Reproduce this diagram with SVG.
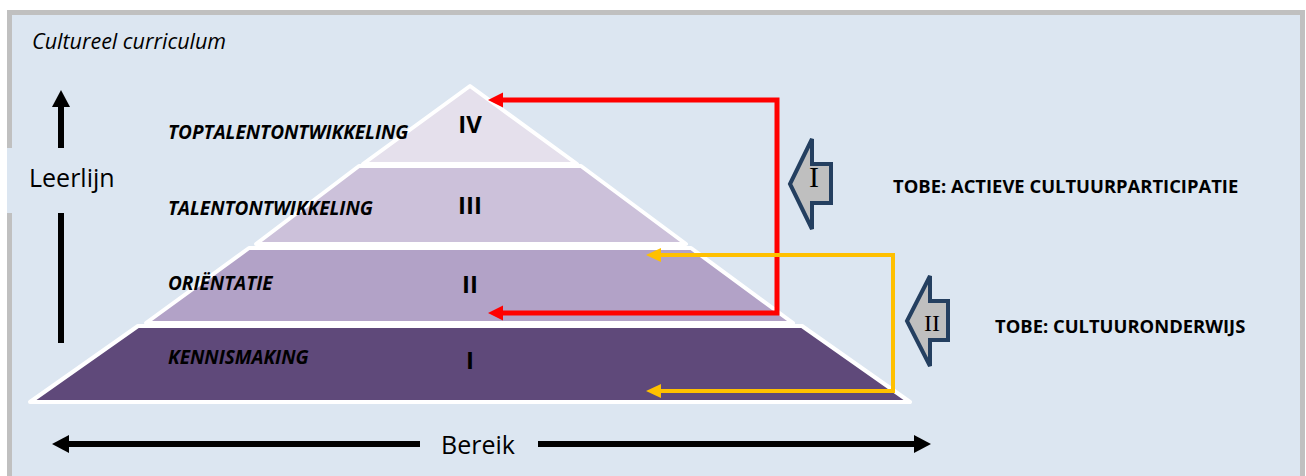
<svg xmlns="http://www.w3.org/2000/svg" width="1306" height="476" viewBox="0 0 1306 476">
<defs>
<style>
.lbl{font-family:"Open Sans","DejaVu Sans",sans-serif;font-weight:bold;font-style:italic;font-size:19px;fill:#000}
.num{font-family:"Open Sans","DejaVu Sans",sans-serif;font-weight:bold;font-size:24px;text-anchor:middle;fill:#000}
.tobe{font-family:"Open Sans","DejaVu Sans",sans-serif;font-weight:bold;font-size:18.4px;fill:#000}
.big{font-family:"Open Sans","DejaVu Sans",sans-serif;font-size:25px;fill:#000}
.layer{stroke:#ffffff;stroke-width:4;stroke-linejoin:round}
.blk{fill:#bfbfbf;stroke:#243f60;stroke-width:4;stroke-linejoin:miter}
.rom{font-family:"Liberation Serif",serif;text-anchor:middle;fill:#000}
.red{fill:none;stroke:#ff0000;stroke-width:5;stroke-linejoin:miter}
.yel{fill:none;stroke:#ffc000;stroke-width:4;stroke-linejoin:miter}
.blkline{fill:none;stroke:#000;stroke-width:6}
</style>
<marker id="arR" markerUnits="userSpaceOnUse" viewBox="0 0 16 16" markerWidth="16" markerHeight="16" refX="0" refY="7.5" orient="auto-start-reverse"><path d="M0,0 L15,7.5 L0,15 z" fill="#ff0000"/></marker>
<marker id="arY" markerUnits="userSpaceOnUse" viewBox="0 0 16 16" markerWidth="16" markerHeight="16" refX="0" refY="7" orient="auto-start-reverse"><path d="M0,0 L15,7 L0,14 z" fill="#ffc000"/></marker>
<marker id="arK" markerUnits="userSpaceOnUse" viewBox="0 0 18 18" markerWidth="18" markerHeight="18" refX="0" refY="9" orient="auto"><path d="M0,0 L17,9 L0,18 z" fill="#000"/></marker>
</defs>
<rect x="0" y="0" width="1306" height="476" fill="#ffffff"/>
<rect x="9.5" y="12.5" width="1293" height="480" fill="#dce6f1" stroke="#c0c0c0" stroke-width="5"/>
<text x="32" y="49" style="font-family:'Open Sans','DejaVu Sans',sans-serif;font-style:italic;font-size:21.5px;fill:#000">Cultureel curriculum</text>

<g id="pyramid">
<g id="layer-IV"><polygon class="layer" points="470,86 577,164 363,164" fill="#e5e0ec"/><text class="lbl" x="168" y="139">TOPTALENTONTWIKKELING</text><text class="num" x="470" y="133">IV</text></g>
<g id="layer-III"><polygon class="layer" points="359,166 581,166 686,244 256,244" fill="#ccc1da"/><text class="lbl" x="168" y="215">TALENTONTWIKKELING</text><text class="num" x="470" y="214">III</text></g>
<g id="layer-II"><polygon class="layer" points="249,248 691,248 793,323 146,323" fill="#b2a2c7"/><text class="lbl" x="168" y="290">ORIËNTATIE</text><text class="num" x="470" y="293">II</text></g>
<g id="layer-I"><polygon class="layer" points="138,326 802,326 910,402 30,402" fill="#5f497a"/><text class="lbl" x="168" y="364">KENNISMAKING</text><text class="num" x="470" y="369">I</text></g>
</g>

<g id="connectors">
<path class="red" d="M503,100 H777 V313 H503" marker-start="url(#arR)" marker-end="url(#arR)"/>
<path class="yel" d="M661,255 H893 V391 H661" marker-start="url(#arY)" marker-end="url(#arY)"/>
<path class="blkline" d="M61,343 V107" marker-end="url(#arK)"/>
<path class="blkline" d="M420,444 H69" marker-end="url(#arK)"/>
<path class="blkline" d="M538,444 H914" marker-end="url(#arK)"/>
</g>

<g id="leerlijn">
<rect x="7" y="148" width="118" height="65" fill="#dce6f1"/>
<text class="big" x="29" y="187">Leerlijn</text>
</g>
<g id="bereik"><text class="big" x="441" y="454">Bereik</text></g>

<g id="arrow-I">
<polygon class="blk" points="790,184 812,139 812,164 831,164 831,203 812,203 812,229"/>
<text class="rom" x="814" y="187" font-size="30">I</text>
</g>
<g id="arrow-II">
<polygon class="blk" points="907,321 930,276 930,301 948,301 948,340 930,340 930,366"/>
<text class="rom" x="932" y="331" font-size="24">II</text>
</g>
<g id="tobe-I"><text class="tobe" x="893" y="193">TOBE: ACTIEVE CULTUURPARTICIPATIE</text></g>
<g id="tobe-II"><text class="tobe" x="995" y="333">TOBE: CULTUURONDERWIJS</text></g>
</svg>
